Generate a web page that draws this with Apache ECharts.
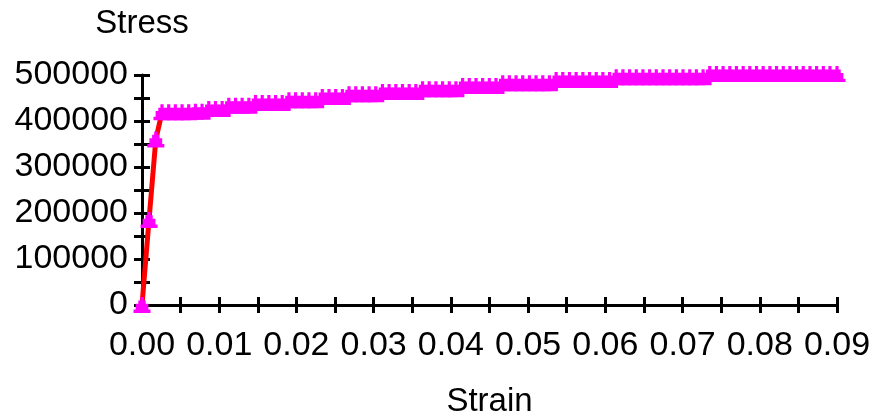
<!DOCTYPE html>
<html>
<head>
<meta charset="UTF-8">
<title>Stress - Strain</title>
<style>html,body{margin:0;padding:0;background:#fff;}</style>
</head>
<body>
<div id="chart" style="width:876px;height:417px;"></div>
<script src="https://cdn.jsdelivr.net/npm/echarts@6/dist/echarts.min.js"></script>
<script>
// values
var strain = [0, 0.00091, 0.00179,
	0.00259, 0.00346, 0.00432, 0.00519, 0.00605, 0.00692, 0.00778, 0.00865, 0.00951, 0.01038,
	0.01124, 0.01211, 0.01297, 0.01384, 0.0147, 0.01557, 0.01643, 0.0173, 0.01816, 0.01903,
	0.01989, 0.02076, 0.02162, 0.02249, 0.02335, 0.02422, 0.02508, 0.02595, 0.02681, 0.02768,
	0.02854, 0.02941, 0.03027, 0.03114, 0.032, 0.03287, 0.03373, 0.0346, 0.03546, 0.03633,
	0.03719, 0.03806, 0.03892, 0.03979, 0.04065, 0.04152, 0.04238, 0.04325, 0.04411, 0.04498,
	0.04584, 0.04671, 0.04757, 0.04844, 0.0493, 0.05017, 0.05103, 0.0519, 0.05276, 0.05363,
	0.05449, 0.05536, 0.05622, 0.05709, 0.05795, 0.05882, 0.05968, 0.06055, 0.06141, 0.06228,
	0.06314, 0.06401, 0.06487, 0.06574, 0.0666, 0.06747, 0.06833, 0.0692, 0.07006, 0.07093,
	0.07179, 0.07266, 0.07352, 0.07439, 0.07525, 0.07612, 0.07698, 0.07785, 0.07871, 0.07958,
	0.08044, 0.08131, 0.08217, 0.08304, 0.0839, 0.08477, 0.08563, 0.0865, 0.08736, 0.08823,
	0.08909, 0.09];
var stress = [0, 185000, 360000,
	419000, 419000, 419000, 419000, 419000, 420000, 420000, 426000, 426000, 426000,
	433000, 433000, 433000, 433000, 439000, 439000, 439000, 439000, 439000, 445000,
	445000, 445000, 445000, 445000, 452000, 452000, 452000, 452000, 458000, 458000,
	458000, 458000, 458000, 463000, 463000, 463000, 463000, 463000, 463000, 469000,
	469000, 469000, 469000, 469000, 469000, 476000, 476000, 476000, 476000, 476000,
	476000, 482000, 482000, 482000, 482000, 482000, 482000, 482000, 482000, 489000,
	489000, 489000, 489000, 489000, 489000, 489000, 489000, 489000, 495000, 495000,
	495000, 495000, 495000, 495000, 495000, 495000, 495000, 495000, 495000, 495000,
	495000, 495000, 502000, 502000, 502000, 502000, 502000, 502000, 502000, 502000,
	502000, 502000, 502000, 502000, 502000, 502000, 502000, 502000, 502000, 502000,
	502000, 502000];
var xTickLabels = ['0.00', '0.01', '0.02', '0.03', '0.04', '0.05', '0.06', '0.07', '0.08', '0.09'];
var yTickLabels = ['0', '100000', '200000', '300000', '400000', '500000'];

var points = [];
for (var i = 0; i < strain.length; i++) {
	points.push([strain[i], stress[i]]);
}

// stepped triangle marker like the old pixel chart
var marker = 'path://M6.5,0L9.5,0L9.5,3L11.5,3L11.5,6L14,6L14,11L16,11L16,14L0,14L0,11L2,11L2,6L4.5,6L4.5,3L6.5,3Z';
var font = 'Liberation Sans';

var chart = echarts.init(document.getElementById('chart'));
var option = {
	animation: false,
	backgroundColor: '#fff',
	grid: { left: 142, right: 39, top: 75, bottom: 112, outerBoundsMode: 'none', containLabel: false },
	xAxis: [
		{
			type: 'value', min: 0, max: 0.09, interval: 0.005, position: 'bottom',
			name: 'Strain', nameLocation: 'middle', nameGap: 80,
			nameTextStyle: { fontFamily: font, fontSize: 33, color: '#000' },
			axisLine: { onZero: false, lineStyle: { color: '#000', width: 3 } },
			axisTick: { length: 8, lineStyle: { color: '#000', width: 3 } },
			axisLabel: {
				fontFamily: font, fontSize: 34, color: '#000', margin: 24,
				formatter: function (v) {
					var k = Math.round(v * 1000);
					return k % 10 === 0 ? xTickLabels[k / 10] : '';
				}
			},
			splitLine: { show: false }
		},
		{
			type: 'value', min: 0, max: 0.09, interval: 0.005, position: 'bottom',
			axisLine: { show: false },
			axisTick: { inside: true, length: 8, lineStyle: { color: '#000', width: 3 } },
			axisLabel: { show: false },
			splitLine: { show: false }
		}
	],
	yAxis: [
		{
			type: 'value', min: 0, max: 500000, interval: 50000, position: 'left',
			name: 'Stress', nameLocation: 'end', nameGap: 35,
			nameTextStyle: { fontFamily: font, fontSize: 33, color: '#000', align: 'center' },
			axisLine: { onZero: false, lineStyle: { color: '#000', width: 3 } },
			axisTick: { length: 8, lineStyle: { color: '#000', width: 3 } },
			axisLabel: {
				fontFamily: font, fontSize: 34, color: '#000', margin: 14,
				formatter: function (v) {
					return v % 100000 === 0 ? yTickLabels[v / 100000] : '';
				}
			},
			splitLine: { show: false }
		},
		{
			type: 'value', min: 0, max: 500000, interval: 50000, position: 'left',
			axisLine: { show: false },
			axisTick: { show: true, inside: true, length: 8, lineStyle: { color: '#000', width: 3 } },
			axisLabel: { show: false },
			splitLine: { show: false }
		}
	],
	series: [
		{
			type: 'line',
			data: points,
			clip: false,
			showAllSymbol: true,
			symbol: marker,
			symbolSize: [17, 16],
			itemStyle: { color: '#ff00ff' },
			lineStyle: { color: '#ff0000', width: 5 }
		}
	]
};
chart.setOption(option);
</script>
</body>
</html>
